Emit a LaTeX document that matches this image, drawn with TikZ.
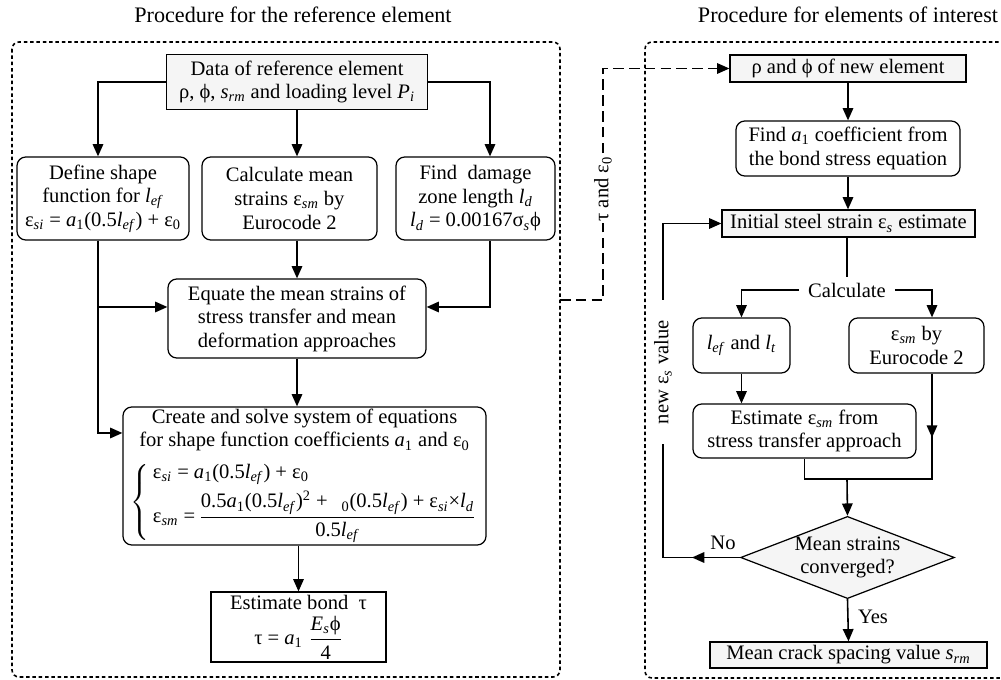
\documentclass[tikz,border=0pt]{standalone}
\usepackage{amsmath}
\usepackage{fontspec}
\setmainfont{Liberation Serif}
\usetikzlibrary{shapes.geometric,arrows.meta}
\newcommand{\ix}[1]{\textsubscript{\textit{#1}}}
\newcommand{\nx}[1]{\textsubscript{#1}}

\begin{document}
\begin{tikzpicture}[
  >={Triangle[length=7pt,width=6pt]},
  every node/.style={font=\fontsize{11.7}{13.4}\selectfont},
  flow/.style={->,line width=0.9pt},
  link/.style={line width=0.9pt},
  plainbox/.style={draw,line width=0.7pt,align=center,inner sep=1pt,fill=white},
  roundbox/.style={plainbox,rounded corners=5pt},
  greybox/.style={plainbox,fill=gray!8},
  frame/.style={line width=0.9pt,dash pattern=on 2pt off 1.6pt,rounded corners=4pt},
  lbl/.style={fill=white,inner sep=1pt}
]
\useasboundingbox (0,0) rectangle (20.02,-13.6);
\node[font=\fontsize{12.6}{15}\selectfont] (titleref) at (5.86,-0.3) {Procedure for the reference element};
\node[font=\fontsize{12.6}{15}\selectfont] (titlenew) at (16.96,-0.3) {Procedure for elements of interest};
\draw[frame] (0.24,-0.84) rectangle (11.2,-13.54);
\draw[frame] (20.1,-0.84) -| (12.9,-13.56) -- (20.1,-13.56);

\node[greybox,minimum width=5.22cm,minimum height=1.1cm] (data) at (5.94,-1.64) {Data of reference element\\ρ, ϕ, \textit{s}\ix{rm} and loading level \textit{P}\ix{i}};
\node[roundbox,minimum width=3.44cm,minimum height=1.66cm] (define) at (2.06,-3.97) {Define shape\\function for \textit{l}\ix{ef}\\ε\ix{si} = \textit{a}\nx{1}(0.5\textit{l}\ix{ef}) + ε\nx{0}};
\node[roundbox,minimum width=3.5cm,minimum height=1.66cm] (calc) at (5.79,-3.97) {Calculate mean\\strains ε\ix{sm} by\\Eurocode 2};
\node[roundbox,minimum width=3.18cm,minimum height=1.66cm] (find) at (9.51,-3.97) {Find\ \ damage\\zone length \textit{l}\ix{d}\\\textit{l}\ix{d} = 0.00167σ\ix{s}ϕ};
\node[roundbox,minimum width=5.16cm,minimum height=1.58cm] (equate) at (5.94,-6.37) {Equate the mean strains of\\stress transfer and mean\\deformation approaches};
\node[roundbox,minimum width=7.26cm,minimum height=2.76cm] (create) at (6.09,-9.52) {Create and solve system of equations\\for shape function coefficients \textit{a}\nx{1} and ε\nx{0}\\[5pt]
$\left\{\,\begin{array}{@{}l@{}}
\text{ε\ix{si} = \textit{a}\nx{1}(0.5\textit{l}\ix{ef}) + ε\nx{0}}\\[3pt]
\text{ε\ix{sm} =}\,\dfrac{\text{0.5\textit{a}\nx{1}(0.5\textit{l}\ix{ef})\textsuperscript{2} + \phantom{ε}\nx{0}(0.5\textit{l}\ix{ef}) + ε\ix{si}×\textit{l}\ix{d}}}{\text{0.5\textit{l}\ix{ef}}}
\end{array}\right.$};
\node[plainbox,minimum width=3.5cm,minimum height=1.4cm] (bond) at (5.97,-12.54) {Estimate bond\ \ τ\\[3pt]$\text{τ = \textit{a}\nx{1}}\;\dfrac{\text{\textit{E}\ix{s}ϕ}}{\text{4}}$};

\draw[flow] (data.west) -| ([xshift=-0.1cm]define.north);
\draw[flow] (data.south) -- (data.south |- calc.north);
\draw[flow] (data.east) -| ([xshift=0.29cm]find.north);
\draw[flow] (equate.north |- calc.south) -- (equate.north);
\draw[flow] ([xshift=0.29cm]find.south) |- ([yshift=0.23cm]equate.east);
\draw[flow] ([xshift=-0.1cm]define.south) |- ([yshift=0.23cm]equate.west);
\draw[flow] ([xshift=-0.1cm]define.south) |- ([yshift=0.86cm]create.west);
\draw[flow] (equate.south) -- (equate.south |- create.north);
\draw[flow] (bond.north |- create.south) -- (bond.north);

\node[greybox,minimum width=4.72cm,minimum height=0.54cm] (newel) at (16.96,-1.37) {ρ and ϕ of new element};
\node[roundbox,minimum width=4.48cm,minimum height=1.1cm] (finda) at (16.96,-2.97) {Find \textit{a}\nx{1} coefficient from\\the bond stress equation};
\node[greybox,minimum width=5.06cm,minimum height=0.54cm] (init) at (16.97,-4.47) {Initial steel strain ε\ix{s} estimate};
\node[inner xsep=5pt] (calcnode) at (16.94,-5.8) {Calculate};
\node[roundbox,minimum width=1.94cm,minimum height=1.1cm] (lef) at (14.83,-6.91) {\textit{l}\ix{ef} and \textit{l}\ix{t}};
\node[roundbox,minimum width=2.7cm,minimum height=1.1cm] (esm) at (18.33,-6.91) {ε\ix{sm} by\\Eurocode 2};
\node[roundbox,minimum width=4.46cm,minimum height=1.08cm] (estim) at (16.09,-8.62) {Estimate ε\ix{sm} from\\stress transfer approach};
\node[diamond,aspect=2.6,draw,line width=0.7pt,fill=gray!8,align=center,inner sep=0pt,minimum width=4.18cm,minimum height=1.62cm] (conv) at (16.95,-11.15) {Mean strains\\converged?};
\node[greybox,minimum width=5.54cm,minimum height=0.52cm] (final) at (16.97,-13.1) {Mean crack spacing value \textit{s}\ix{rm}};

\coordinate (tauout) at (11.2,-6.0);
\draw[flow,dash pattern=on 6pt off 3pt] (tauout) -- (12.06,-6.0) |- (newel.west);
\node[lbl,rotate=90] (taulbl) at (12.06,-3.78) {τ and ε\nx{0}};

\draw[flow] (newel.south) -- (finda.north);
\draw[flow] (finda.south) -- (finda.south |- init.north);
\draw[link] (calcnode.north |- init.south) -- (calcnode.north);
\draw[flow] (calcnode.west) -| (lef.north);
\draw[flow] (calcnode.east) -| ([xshift=0.31cm]esm.north);
\draw[flow] (lef.south) -- (lef.south |- estim.north);
\coordinate (merge) at (16.94,-9.58);
\draw[flow] ([xshift=0.31cm]esm.south) -- ++(0,-1.28);
\draw[link] (estim.south) |- (merge) -| ([xshift=0.31cm]esm.south);
\draw[flow] (merge) -- (conv.north);
\draw[flow] (conv.south) -- (final.north);
\node (yes) at (17.46,-12.34) {Yes};
\coordinate (back) at (13.26,-11.15);
\draw[flow] (conv.west) -- ++(-0.96,0);
\draw[flow] (conv.west) -- (back) |- (init.west);
\node (no) at (14.46,-10.86) {No};
\node[lbl,rotate=90,inner xsep=0.4cm] (newlbl) at (13.26,-7.44) {new ε\ix{s} value};
\end{tikzpicture}
\end{document}
